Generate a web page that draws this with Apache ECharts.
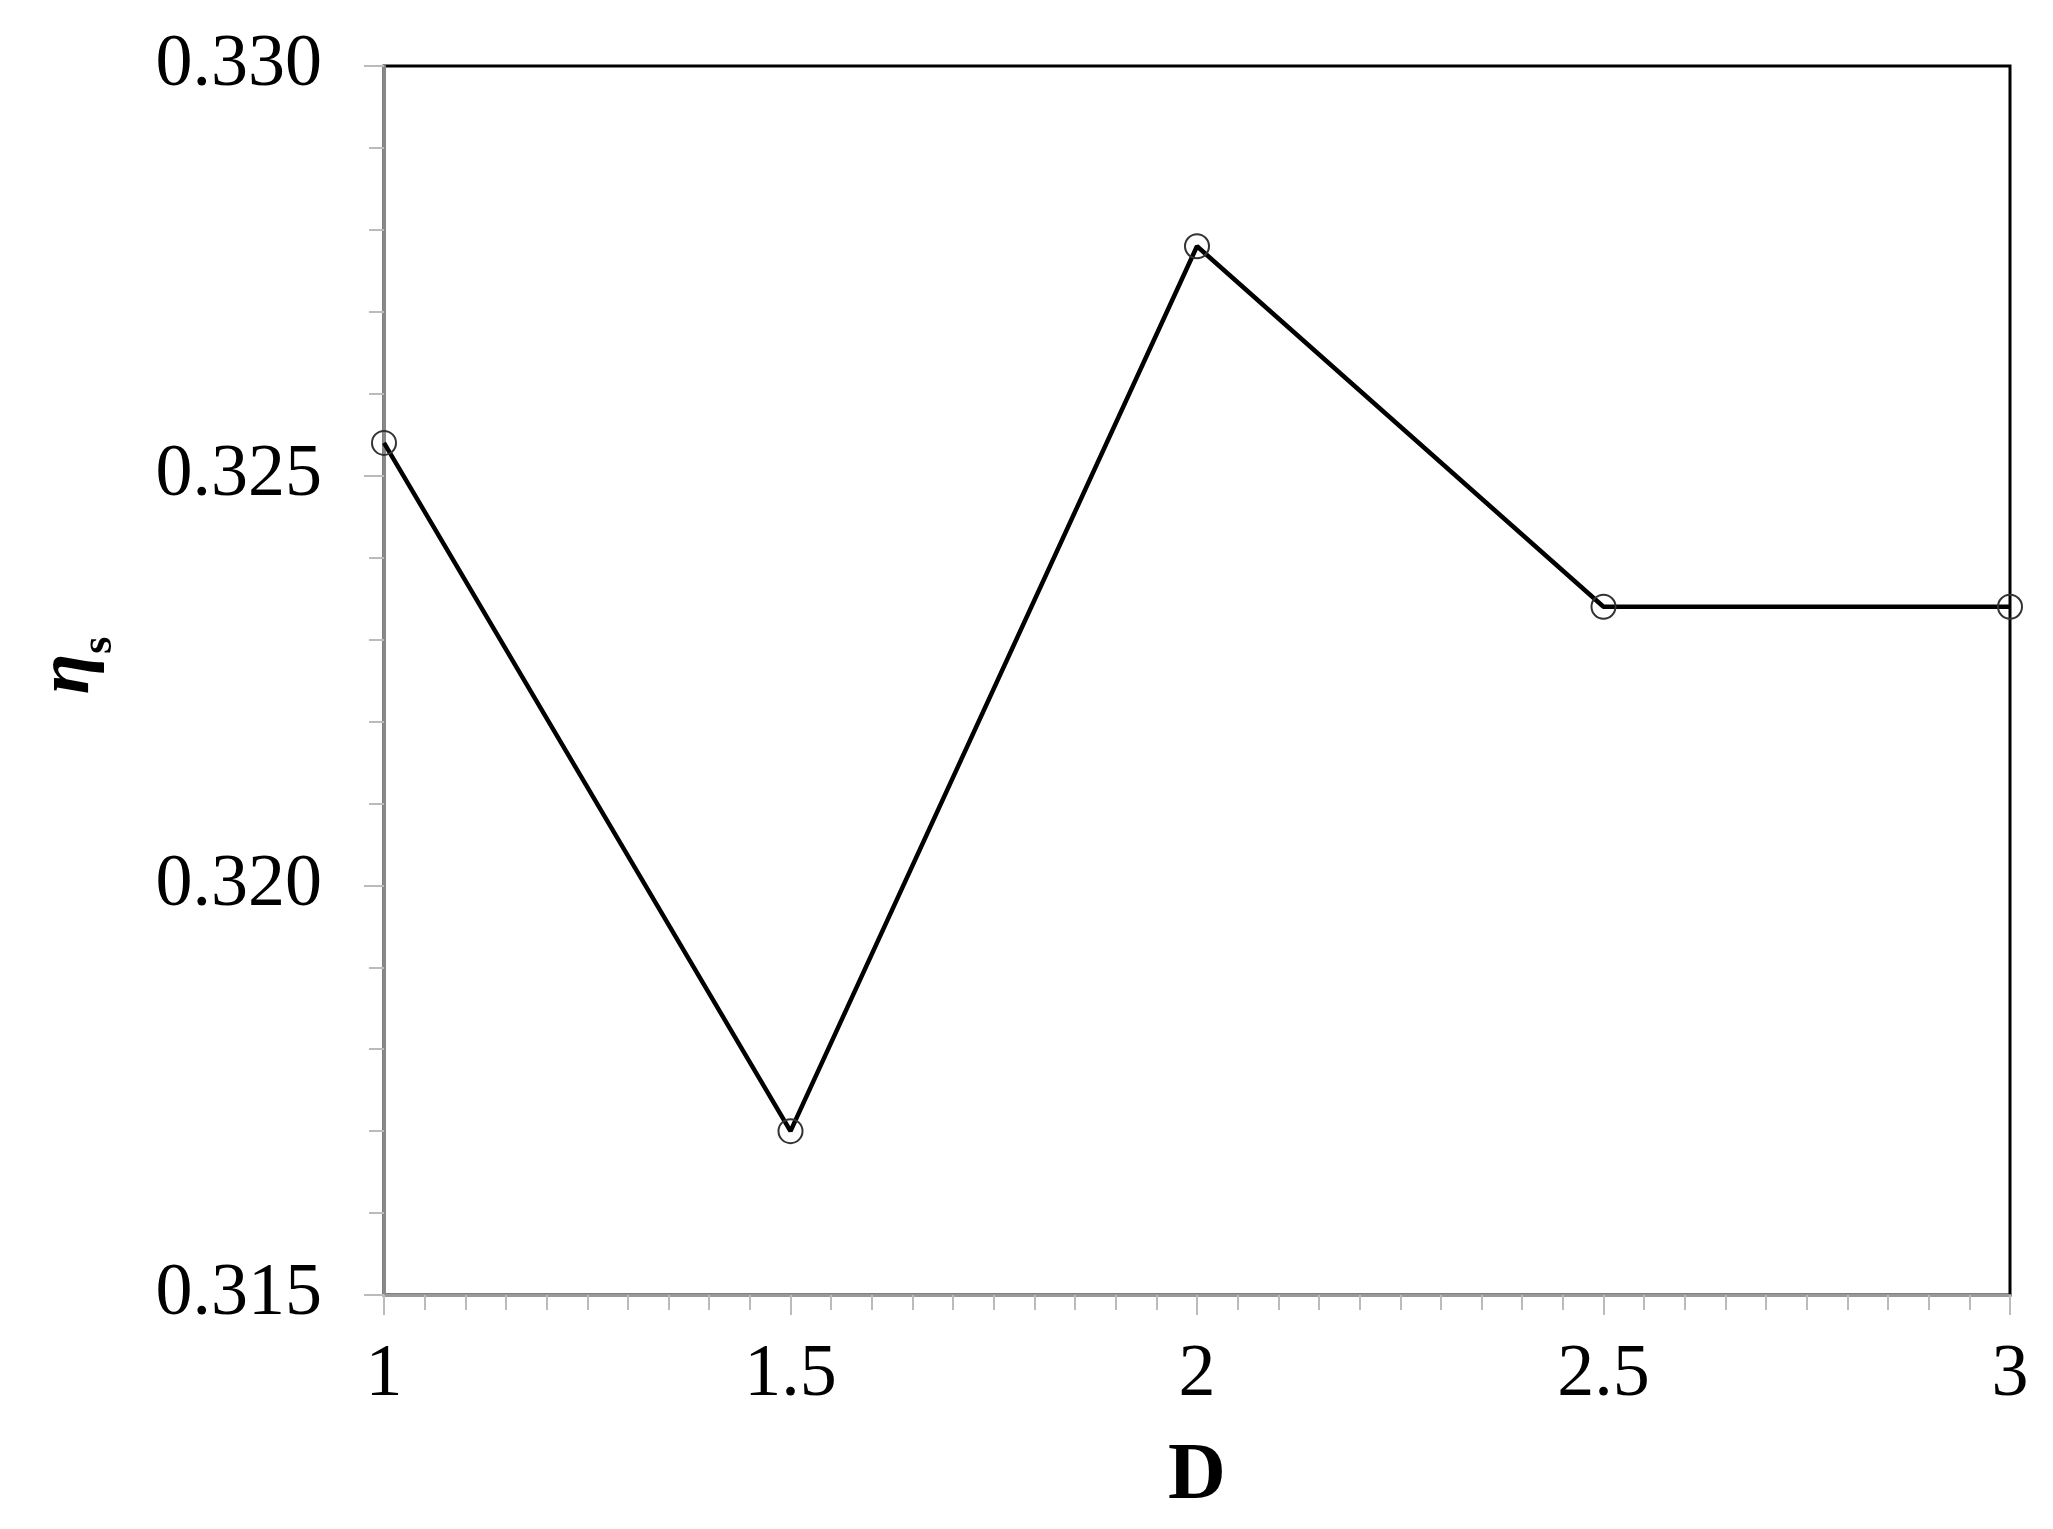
<!DOCTYPE html>
<html>
<head>
<meta charset="utf-8">
<script src="https://cdn.jsdelivr.net/npm/echarts@6/dist/echarts.min.js"></script>
<style>
  html, body { margin: 0; padding: 0; background: #fff; }
  #chart { width: 2053px; height: 1529px; }
</style>
</head>
<body>
<div id="chart"></div>
<script>
// D values and efficiency
const dValues = [1, 1.5, 2, 2.5, 3];
const etaValues = [0.3254, 0.3170, 0.3278, 0.3234, 0.3234];
const xTicks = { min: 1, max: 3, step: 0.5 };
const yTicks = { min: 0.315, max: 0.330, step: 0.005 };

const chart = echarts.init(document.getElementById('chart'));
const serif = 'Liberation Serif';

const option = {
  animation: false,
  grid: {
    left: 384,
    right: 43,
    top: 66,
    bottom: 234,
    show: true,
    borderColor: '#000',
    borderWidth: 3
  },
  xAxis: {
    type: 'value',
    min: xTicks.min,
    max: xTicks.max,
    interval: xTicks.step,
    name: 'D',
    nameLocation: 'middle',
    nameGap: 142,
    nameTextStyle: { fontFamily: serif, fontSize: 80, fontWeight: 'bold', color: '#000' },
    axisLine: { lineStyle: { color: '#999', width: 3 } },
    axisTick: { show: true, length: 20, lineStyle: { color: '#bbb', width: 2 } },
    minorTick: { show: true, splitNumber: 10, length: 15, lineStyle: { color: '#bbb', width: 2 } },
    splitLine: { show: false },
    axisLabel: {
      fontFamily: serif, fontSize: 74, color: '#000', margin: 44,
      formatter: v => String(v)
    }
  },
  yAxis: {
    type: 'value',
    min: yTicks.min,
    max: yTicks.max,
    interval: yTicks.step,
    name: '{eta|η}{sub|s}',
    nameLocation: 'middle',
    nameRotate: 90,
    nameGap: 278,
    nameTextStyle: {
      padding: [0, 0, 0, 30],
      rich: {
        eta: { fontFamily: serif, fontSize: 74, fontWeight: 'bold', fontStyle: 'italic', color: '#000' },
        sub: { fontFamily: serif, fontSize: 44, fontWeight: 'bold', color: '#000', verticalAlign: 'bottom', padding: [0, 0, -16, 0] }
      }
    },
    axisLine: { show: true, lineStyle: { color: '#888', width: 3 } },
    axisTick: { show: true, length: 20, lineStyle: { color: '#bbb', width: 2 } },
    minorTick: { show: true, splitNumber: 5, length: 15, lineStyle: { color: '#bbb', width: 2 } },
    splitLine: { show: false },
    axisLabel: {
      fontFamily: serif, fontSize: 74, color: '#000', margin: 62,
      formatter: v => v.toFixed(3)
    }
  },
  series: [{
    type: 'line',
    data: dValues.map((d, i) => [d, etaValues[i]]),
    symbol: 'circle',
    symbolSize: 24,
    lineStyle: { color: '#000', width: 4.5 },
    itemStyle: { color: 'rgba(0,0,0,0)', borderColor: '#333', borderWidth: 2 },
    clip: false,
    z: 3
  }]
};

chart.setOption(option);
</script>
</body>
</html>
